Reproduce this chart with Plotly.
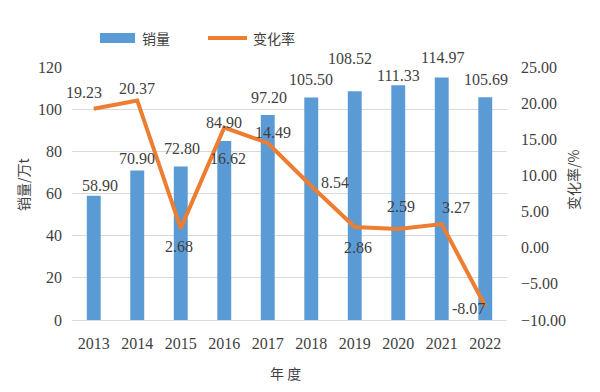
import plotly.graph_objects as go
from plotly.subplots import make_subplots

years = ["2013", "2014", "2015", "2016", "2017", "2018", "2019", "2020", "2021", "2022"]
sales = [58.90, 70.90, 72.80, 84.90, 97.20, 105.50, 108.52, 111.33, 114.97, 105.69]
rate = [19.23, 20.37, 2.68, 16.62, 14.49, 8.54, 2.86, 2.59, 3.27, -8.07]
left_ticks = [0, 20, 40, 60, 80, 100, 120]
right_ticks = [-10, -5, 0, 5, 10, 15, 20, 25]

# label offsets in pixels (styling only)
sales_dx = [6, 0, 1, 0, 1, 0, -5, 0, 1, 1]
sales_dy = [10, 12, 18, 19, 18, 18, 33, 10, 20, 18]
rate_dx = [-10, 0, -2, 4, 5, 24, 3, 3, 14, -17]
rate_dy = [-16, -12, 18, 31, -10, -3, 20, -22, -17, 2]

BLUE = "#5B9BD5"
ORANGE = "#ED7D31"
TXT = "#3F3F3F"
NUMFONT = "Liberation Serif, Noto Sans CJK SC, serif"
CJK = "Noto Sans CJK SC, sans-serif"
NS = 16

fig = make_subplots(specs=[[{"secondary_y": True}]])
fig.add_trace(go.Bar(x=years, y=sales, name="销量", marker=dict(color=BLUE, line=dict(width=0)),
                     showlegend=False), secondary_y=False)
fig.add_trace(go.Scatter(x=years, y=rate, name="变化率", mode="lines",
                         line=dict(color=ORANGE, width=4), showlegend=False), secondary_y=True)

ann = []
for i, (v, dx, dy) in enumerate(zip(sales, sales_dx, sales_dy)):
    ann.append(dict(x=i, y=v, xref="x", yref="y", text=f"{v:.2f}", showarrow=False,
                    xanchor="center", yanchor="middle",
                    xshift=dx, yshift=dy, font=dict(family=NUMFONT, size=NS, color=TXT)))
for i, (v, dx, dy) in enumerate(zip(rate, rate_dx, rate_dy)):
    ann.append(dict(x=i, y=v, xref="x", yref="y2", text=f"{v:.2f}", showarrow=False,
                    xanchor="center", yanchor="middle",
                    xshift=dx, yshift=-dy, font=dict(family=NUMFONT, size=NS, color=TXT)))

# page has an 8px body margin
OFF = 8
W, H = 600 - OFF, 392 - OFF
L, R, T, B = 72 - OFF, 93, 67 - OFF, 72
pw, ph = W - L - R, H - T - B
def px(xp):
    return (xp - OFF - L) / pw
def py(yp):
    return (H - B - (yp - OFF)) / ph

ann.append(dict(x=px(23), y=py(185), xref="paper", yref="paper", text="销量/万t", textangle=-90,
                xanchor="center", yanchor="middle",
                showarrow=False, font=dict(family=CJK, size=14, color=TXT)))
ann.append(dict(x=px(573), y=py(180), xref="paper", yref="paper", text="变化率/%", textangle=-90,
                xanchor="center", yanchor="middle",
                showarrow=False, font=dict(family=CJK, size=14, color=TXT)))
ann.append(dict(x=px(285), y=py(373), xref="paper", yref="paper", text="年 度",
                xanchor="center", yanchor="middle",
                showarrow=False, font=dict(family=CJK, size=14, color=TXT)))
# legend
ann.append(dict(x=px(140), y=py(38), xref="paper", yref="paper", text="销量", xanchor="left",
                yanchor="middle", showarrow=False, font=dict(family=CJK, size=14, color=TXT)))
ann.append(dict(x=px(251), y=py(38), xref="paper", yref="paper", text="变化率", xanchor="left",
                yanchor="middle", showarrow=False, font=dict(family=CJK, size=14, color=TXT)))
shapes = [
    dict(type="rect", xref="paper", yref="paper", x0=px(100), x1=px(135), y0=py(43), y1=py(33),
         fillcolor=BLUE, line=dict(width=0)),
    dict(type="line", xref="paper", yref="paper", x0=px(208), x1=px(247), y0=py(38), y1=py(38),
         line=dict(color=ORANGE, width=4)),
]

fig.update_layout(
    width=W, height=H, margin=dict(l=L, r=R, t=T, b=B, autoexpand=False),
    plot_bgcolor="white", paper_bgcolor="white",
    bargap=0.68, annotations=ann, shapes=shapes,
    font=dict(family=NUMFONT, size=NS, color=TXT),
)
fig.update_xaxes(type="category", range=[-0.5, len(years) - 0.5], domain=[0, 1], showgrid=False,
                 showline=True, linecolor="#D9D9D9", linewidth=1, automargin=False,
                 ticks="", ticklabelstandoff=9, tickfont=dict(family=NUMFONT, size=NS, color=TXT))
fig.update_yaxes(range=[0, 120], tickvals=left_ticks, showgrid=True, gridcolor="#D9D9D9",
                 zeroline=False, ticks="", ticklabelstandoff=9, automargin=False,
                 tickfont=dict(family=NUMFONT, size=NS, color=TXT), secondary_y=False)
fig.update_yaxes(range=[-10, 25], tickvals=right_ticks, tickformat=".2f", showgrid=False,
                 zeroline=False, ticks="", ticklabelstandoff=13, automargin=False,
                 tickfont=dict(family=NUMFONT, size=NS, color=TXT), secondary_y=True)

fig.write_html("out.html")
